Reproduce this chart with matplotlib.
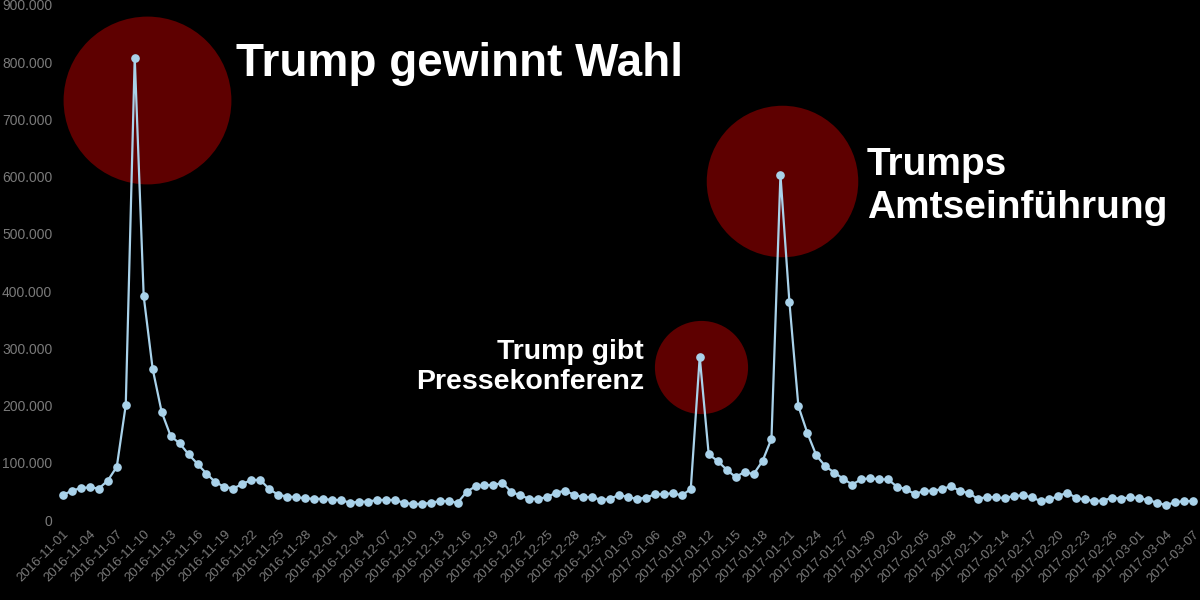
import numpy as np
import pandas as pd
from matplotlib import pyplot as plt
from matplotlib.ticker import FuncFormatter

# daily values, 2016-11-01 .. 2017-03-07
nov = [44000, 51000, 56000, 57000, 55000, 69000, 93000, 201000, 808000, 391000,
       264000, 189000, 147000, 134000, 115000, 98000, 81000, 66000, 58000, 55000,
       63000, 70000, 70000, 54000, 44000, 41000, 40000, 38000, 37000, 37000]
dec = [35000, 35000, 30000, 32000, 32000, 35000, 35000, 35000, 30000, 28000,
       28000, 30000, 33000, 33000, 30000, 49000, 59000, 61000, 61000, 65000,
       49000, 43000, 37000, 37000, 40000, 48000, 51000, 44000, 40000, 40000,
       35000]
jan = [37000, 44000, 40000, 37000, 39000, 45000, 45000, 47000, 43000, 54000,
       285000, 115000, 103000, 88000, 75000, 84000, 80000, 103000, 142000, 603000,
       381000, 199000, 152000, 113000, 94000, 83000, 72000, 62000, 71000, 73000,
       71000]
feb = [71000, 58000, 54000, 45000, 51000, 51000, 54000, 59000, 51000, 47000,
       37000, 40000, 40000, 38000, 42000, 43000, 40000, 33000, 36000, 42000,
       48000, 38000, 36000, 33000, 34000, 39000, 37000, 40000]
mar = [38000, 35000, 30000, 26000, 31000, 33000, 33000]

values = nov + dec + jan + feb + mar
dates = pd.date_range('2016-11-01', periods=len(values), freq='D')
labels = [d.strftime('%Y-%m-%d') for d in dates]

# highlights: (date of peak, circle centre offset in days, centre value, size)
highlights = [('2016-11-09', 1.4, 734000, 14600),
              ('2017-01-20', 0.2, 592000, 11900),
              ('2017-01-11', 0.1, 268000, 4500)]

fig = plt.figure(figsize=(12, 6), dpi=100, facecolor='black')
ax = fig.add_axes([55 / 1200, 1 - 520 / 600, 1143 / 1200, 515 / 600])
ax.set_facecolor('black')

x = np.arange(len(values))
for day, dx, cy, size in highlights:
    i = labels.index(day)
    ax.scatter([i + dx], [cy], s=size, color='#5e0000', zorder=1, linewidths=0)

ax.plot(x, values, color='#a9d2ea', lw=1.6, marker='o', markersize=5.2, zorder=3)

ax.set_xlim(-0.89, len(values) - 1 + 0.56)
ax.set_ylim(0, 900000)
ax.set_yticks(np.arange(0, 900001, 100000))
ax.yaxis.set_major_formatter(FuncFormatter(lambda v, p: f'{int(v):,}'.replace(',', '.')))
ax.set_xticks(x[::3])
ax.set_xticklabels(labels[::3], rotation=45, ha='right', rotation_mode='anchor')

for s in ax.spines.values():
    s.set_visible(False)
ax.tick_params(axis='both', length=0, colors='#7a7a7a')
ax.tick_params(axis='y', pad=2, labelsize=10)
ax.tick_params(axis='x', pad=6, labelsize=9.5)
for t in ax.get_xticklabels() + ax.get_yticklabels():
    t.set_family('Liberation Sans')

font = dict(family='Liberation Sans', weight='bold', color='white')
ax.text(labels.index('2016-11-09') + 11.3, 797000, 'Trump gewinnt Wahl',
        fontsize=33, va='center', ha='left', **font)
ax.text(labels.index('2017-01-20') + 9.6, 582000, 'Trumps\nAmtseinführung',
        fontsize=28, va='center', ha='left', linespacing=1.25, **font)
ax.text(labels.index('2017-01-11') - 6.2, 268000, 'Trump gibt\nPressekonferenz',
        fontsize=20.5, va='center', ha='right', linespacing=1.2, **font)

fig.savefig('out.png', dpi=100, facecolor='black')
